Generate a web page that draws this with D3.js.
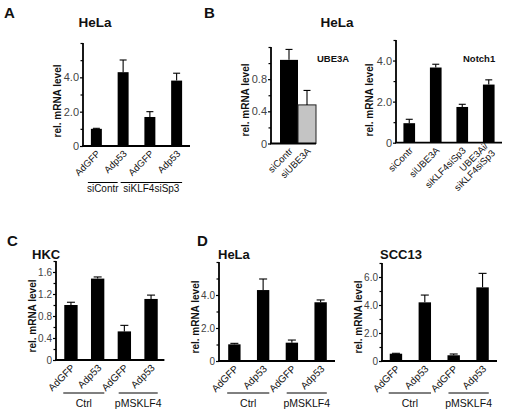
<!DOCTYPE html>
<html><head><meta charset="utf-8">
<script src="https://cdn.jsdelivr.net/npm/d3@7"></script>
<style>
html,body{margin:0;padding:0;background:#fff;}
svg{display:block;font-family:"Liberation Sans",Arial,Helvetica,sans-serif;}
</style></head>
<body>
<script>
// ---------- DATA ----------
// Panel A (HeLa)
const aCategories = ["AdGFP","Adp53","AdGFP","Adp53"];
const aValues = [1.0, 4.3, 1.69, 3.81];
const aErrors = [0.03, 0.71, 0.31, 0.43];
const aGroups = ["siContr","siKLF4siSp3"];
const aTicks = [0, 2, 4];
const aMinorTicks = [1, 3, 5, 6];

// Panel B left (UBE3A)
const bUbeCategories = ["siContr","siUBE3A"];
const bUbeValues = [1.04, 0.48];
const bUbeErrors = [0.13, 0.18];
const bUbeTicks = [0, 0.4, 0.8];
const bUbeMinorTicks = [0.2, 0.6, 1.0, 1.2];

// Panel B right (Notch1)
const bNotchCategories = ["siContr","siUBE3A","siKLF4siSp3",["UBE3Ai/","siKLF4siSp3"]];
const bNotchValues = [0.95, 3.66, 1.74, 2.83];
const bNotchErrors = [0.19, 0.16, 0.13, 0.23];
const bNotchTicks = [0, 2, 4];
const bNotchMinorTicks = [1, 3, 5];

// Panel C (HKC)
const cCategories = ["AdGFP","Adp53","AdGFP","Adp53"];
const cValues = [1.0, 1.48, 0.52, 1.11];
const cErrors = [0.05, 0.03, 0.11, 0.07];
const cTicks = [0, 0.4, 0.8, 1.2, 1.6];
const cMinorTicks = [0.2, 0.6, 1.0, 1.4, 1.8];

// Panel D left (HeLa)
const dHelaCategories = ["AdGFP","Adp53","AdGFP","Adp53"];
const dHelaValues = [1.01, 4.3, 1.11, 3.56];
const dHelaErrors = [0.06, 0.67, 0.16, 0.14];
const dHelaTicks = [0, 2, 4];
const dHelaMinorTicks = [1, 3, 5, 6];

// Panel D right (SCC13)
const dSccCategories = ["AdGFP","Adp53","AdGFP","Adp53"];
const dSccValues = [0.52, 4.19, 0.41, 5.26];
const dSccErrors = [0.03, 0.52, 0.09, 1.0];
const dSccTicks = [0, 2, 4, 6];
const dSccMinorTicks = [1, 3, 5, 7];

const cdGroups = ["Ctrl","pMSKLF4"];
const yLabel = "rel. mRNA level";

// ---------- DRAW ----------
const W = 506, H = 413;
const svg = d3.select("body").append("svg").attr("width", W).attr("height", H);

const fmt = d => d === 0 ? "0" : d3.format(".1f")(d);

function drawPanel(cfg) {
  const g = svg.append("g");
  const y = d3.scaleLinear().domain([0, cfg.max]).range([cfg.base, cfg.top]);
  const x = d3.scaleBand().domain(d3.range(cfg.values.length))
    .range([cfg.x0, cfg.x1]).paddingInner(cfg.pad).paddingOuter(cfg.pad / 2);
  const bw = x.bandwidth();

  // bars
  g.selectAll("rect.bar").data(cfg.values).join("rect")
    .attr("class", "bar")
    .attr("x", (d, i) => x(i))
    .attr("y", d => y(d))
    .attr("width", bw)
    .attr("height", d => y(0) - y(d))
    .attr("fill", (d, i) => cfg.fills ? cfg.fills[i] : "#000")
    .attr("stroke", (d, i) => cfg.fills && cfg.fills[i] !== "#000" ? "#222" : "none")
    .attr("stroke-width", 1);

  // error bars
  const eg = g.append("g").attr("stroke", "#000").attr("stroke-width", 1.1);
  cfg.values.forEach((v, i) => {
    const cx = x(i) + bw / 2;
    const e = cfg.errors[i];
    eg.append("line").attr("x1", cx).attr("x2", cx).attr("y1", y(v)).attr("y2", y(v + e));
    eg.append("line").attr("x1", cx - cfg.cap).attr("x2", cx + cfg.cap).attr("y1", y(v + e)).attr("y2", y(v + e));
  });

  // y axis (minor then major)
  g.append("g").attr("transform", `translate(${cfg.axisX},0)`)
    .call(d3.axisLeft(y).tickValues(cfg.minorTicks).tickSize(2.5).tickFormat("").tickSizeOuter(0))
    .call(s => s.select(".domain").remove())
    .call(s => s.selectAll("line").attr("stroke-width", 1.2));
  const ya = g.append("g").attr("transform", `translate(${cfg.axisX},0)`)
    .call(d3.axisLeft(y).tickValues(cfg.ticks).tickSize(3).tickPadding(1).tickFormat(fmt).tickSizeOuter(0));
  ya.select(".domain").attr("stroke-width", 1.8).attr("d", `M0,${y(0)}V${cfg.top}`);
  ya.selectAll("line").attr("stroke-width", 1.2);
  ya.selectAll("text").attr("font-size", cfg.tickFont).attr("fill", "#444")
    .attr("font-family", "Liberation Sans, Arial, sans-serif");

  // x baseline
  g.append("line").attr("x1", cfg.axisX - 1).attr("x2", cfg.x1)
    .attr("y1", y(0)).attr("y2", y(0)).attr("stroke", "#000").attr("stroke-width", 1.8);

  // x labels (rotated)
  cfg.cats.forEach((c, i) => {
    const cx = x(i) + bw / 2;
    const t = g.append("text")
      .attr("transform", `translate(${cx + 2},${y(0) + 6}) rotate(-45)`)
      .attr("text-anchor", "end").attr("font-size", cfg.catFont).attr("fill", "#111");
    if (Array.isArray(c)) {
      t.append("tspan").attr("x", 0).attr("dy", "-0.3em").text(c[0]);
      t.append("tspan").attr("x", 0).attr("dy", "1.05em").text(c[1]);
    } else {
      t.attr("dy", "0.35em").text(c);
    }
  });

  // y label
  g.append("text")
    .attr("transform", `translate(${cfg.axisX - cfg.ylabOff},${cfg.ylabY}) rotate(-90)`)
    .attr("text-anchor", "middle").attr("font-size", 10).attr("font-weight", "bold")
    .attr("fill", "#111").text(yLabel);

  // title
  if (cfg.title) {
    g.append("text").attr("x", cfg.title.x).attr("y", cfg.title.y)
      .attr("text-anchor", cfg.title.anchor || "start")
      .attr("font-size", cfg.title.size).attr("font-weight", "bold").attr("fill", "#111")
      .text(cfg.title.text);
  }

  // groups
  if (cfg.groups) {
    cfg.groups.forEach(gr => {
      const x1 = gr.span(x, bw)[0], x2 = gr.span(x, bw)[1];
      g.append("line").attr("x1", x1).attr("x2", x2).attr("y1", cfg.groupLineY).attr("y2", cfg.groupLineY)
        .attr("stroke", "#000").attr("stroke-width", 1);
      g.append("text").attr("x", (x1 + x2) / 2).attr("y", cfg.groupTextY)
        .attr("text-anchor", "middle").attr("font-size", cfg.groupFont).attr("fill", "#111").text(gr.label);
    });
  }
  return {x, y};
}

// Panel A
drawPanel({
  values: aValues, errors: aErrors, cats: aCategories, max: 6,
  ticks: aTicks, minorTicks: aMinorTicks,
  top: 43, base: 146, axisX: 83, x0: 83, x1: 190, pad: 0.59, cap: 3.5,
  tickFont: 11, catFont: 9.5, ylabOff: 22, ylabY: 101,
  title: {text: "HeLa", x: 95, y: 27, size: 13.5, anchor: "middle"},
  groups: [
    {label: aGroups[0], span: (x, bw) => [x(0) - 3, x(1)]},
    {label: aGroups[1], span: (x, bw) => [x(1) + 3, x(3) + bw]}
  ],
  groupLineY: 182.5, groupTextY: 192, groupFont: 10
});

// Panel B left
drawPanel({
  values: bUbeValues, errors: bUbeErrors, cats: bUbeCategories, max: 1.2,
  ticks: bUbeTicks, minorTicks: bUbeMinorTicks,
  top: 47, base: 143.5, axisX: 271, x0: 280, x1: 316, pad: 0, cap: 3.5,
  fills: ["#000", "#c4c4c4"],
  tickFont: 11, catFont: 9.5, ylabOff: 22, ylabY: 100,
  title: {text: "UBE3A", x: 317, y: 62, size: 9.5, anchor: "start"}
});

// Panel B right
drawPanel({
  values: bNotchValues, errors: bNotchErrors, cats: bNotchCategories, max: 5,
  ticks: bNotchTicks, minorTicks: bNotchMinorTicks,
  top: 40, base: 142.7, axisX: 396, x0: 396, x1: 502, pad: 0.56, cap: 3.5,
  tickFont: 11, catFont: 9.5, ylabOff: 23, ylabY: 100,
  title: {text: "Notch1", x: 463, y: 62, size: 9.5, anchor: "start"}
});

// Panel C
drawPanel({
  values: cValues, errors: cErrors, cats: cCategories, max: 1.8,
  ticks: cTicks, minorTicks: cMinorTicks,
  top: 261, base: 360, axisX: 56, x0: 57.6, x1: 164.4, pad: 0.5, cap: 4,
  tickFont: 10, catFont: 10, ylabOff: 20.5, ylabY: 316,
  title: {text: "HKC", x: 32, y: 259, size: 13, anchor: "start"},
  groups: [
    {label: cdGroups[0], span: (x, bw) => [x(0) - 1, x(1) + bw]},
    {label: cdGroups[1], span: (x, bw) => [x(2) + 1, x(3) + bw]}
  ],
  groupLineY: 393, groupTextY: 407, groupFont: 10.5
});

// Panel D left
drawPanel({
  values: dHelaValues, errors: dHelaErrors, cats: dHelaCategories, max: 6,
  ticks: dHelaTicks, minorTicks: dHelaMinorTicks,
  top: 262, base: 361, axisX: 219, x0: 220, x1: 335, pad: 0.57, cap: 4,
  tickFont: 10, catFont: 10, ylabOff: 20.5, ylabY: 317,
  title: {text: "HeLa", x: 218, y: 259, size: 13, anchor: "start"},
  groups: [
    {label: cdGroups[0], span: (x, bw) => [x(0) - 1, x(1) + bw]},
    {label: cdGroups[1], span: (x, bw) => [x(2) + 1, x(3) + bw]}
  ],
  groupLineY: 393, groupTextY: 407, groupFont: 10.5
});

// Panel D right
drawPanel({
  values: dSccValues, errors: dSccErrors, cats: dSccCategories, max: 7,
  ticks: dSccTicks, minorTicks: dSccMinorTicks,
  top: 263, base: 361, axisX: 382, x0: 381.5, x1: 497, pad: 0.57, cap: 4,
  tickFont: 10, catFont: 10, ylabOff: 20.5, ylabY: 317,
  title: {text: "SCC13", x: 380, y: 259, size: 13, anchor: "start"},
  groups: [
    {label: cdGroups[0], span: (x, bw) => [x(0) - 1, x(1) + bw]},
    {label: cdGroups[1], span: (x, bw) => [x(2) + 1, x(3) + bw]}
  ],
  groupLineY: 393, groupTextY: 407, groupFont: 10.5
});

// panel letters and shared titles
const letters = [
  {t: "A", x: 4, y: 18},
  {t: "B", x: 204, y: 18},
  {t: "C", x: 7, y: 246},
  {t: "D", x: 197, y: 246}
];
svg.selectAll("text.letter").data(letters).join("text").attr("class", "letter")
  .attr("x", d => d.x).attr("y", d => d.y).attr("font-size", 15).attr("font-weight", "bold")
  .attr("fill", "#111").text(d => d.t);

svg.append("text").attr("x", 337).attr("y", 27).attr("text-anchor", "middle")
  .attr("font-size", 13.5).attr("font-weight", "bold").attr("fill", "#111").text("HeLa");
</script>
</body></html>
